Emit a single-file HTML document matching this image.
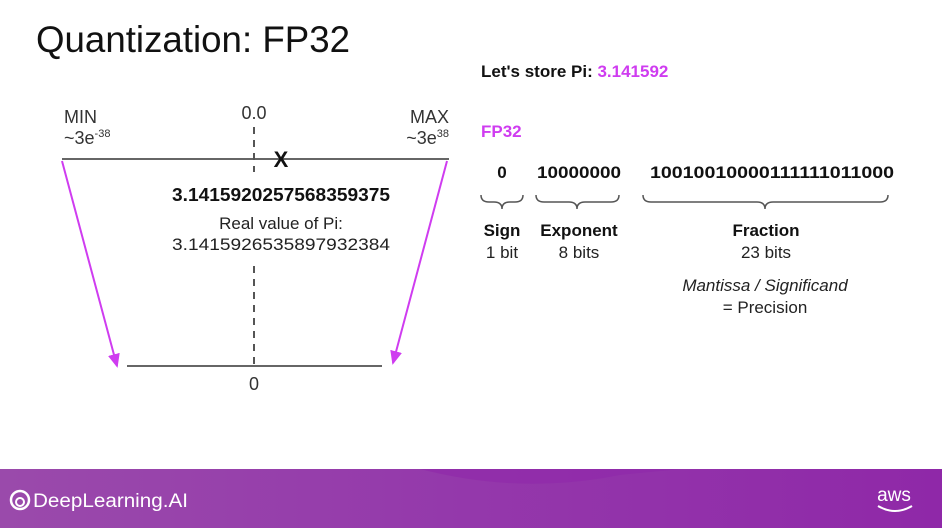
<!DOCTYPE html>
<html><head><meta charset="utf-8"><style>
html,body{margin:0;padding:0;background:#fff;width:942px;height:528px;overflow:hidden}
svg{display:block;font-family:"Liberation Sans",sans-serif}
</style></head><body>
<svg width="942" height="528" viewBox="0 0 942 528">
<defs>
<linearGradient id="fg" x1="0" x2="1" y1="0" y2="0"><stop offset="0" stop-color="#9a4aab"/><stop offset="0.5" stop-color="#9438ab"/><stop offset="1" stop-color="#8f28a8"/></linearGradient>
<marker id="ah" markerWidth="14" markerHeight="12" refX="12" refY="6" orient="auto" markerUnits="userSpaceOnUse"><path d="M0,0 L14,6 L0,12 z" fill="#cf3cf0"/></marker>
</defs>
<text x="36" y="52" font-size="37" fill="#111" textLength="314" lengthAdjust="spacingAndGlyphs">Quantization: FP32</text>

<g>
<line x1="62" y1="159" x2="449" y2="159" stroke="#666" stroke-width="2"/>
<line x1="254" y1="127" x2="254" y2="172" stroke="#555" stroke-width="2" stroke-dasharray="7,6"/>
<line x1="254" y1="266" x2="254" y2="366" stroke="#555" stroke-width="2" stroke-dasharray="7,6"/>
<line x1="127" y1="366" x2="382" y2="366" stroke="#666" stroke-width="2"/>
<line x1="62" y1="161" x2="117" y2="366" stroke="#cf3cf0" stroke-width="2" marker-end="url(#ah)"/>
<line x1="447" y1="161" x2="393" y2="363" stroke="#cf3cf0" stroke-width="2" marker-end="url(#ah)"/>
<text x="64" y="123" font-size="18" fill="#333">MIN</text>
<text x="64" y="144" font-size="18" fill="#333">~3e<tspan font-size="11" dy="-7">-38</tspan></text>
<text x="449" y="123" font-size="18" fill="#333" text-anchor="end">MAX</text>
<text x="449" y="144" font-size="18" fill="#333" text-anchor="end">~3e<tspan font-size="11" dy="-7">38</tspan></text>
<text x="254" y="119" font-size="18" fill="#333" text-anchor="middle">0.0</text>
<text x="281" y="167" font-size="22" font-weight="bold" fill="#111" text-anchor="middle">X</text>
<text x="281" y="201" font-size="18" font-weight="bold" fill="#111" text-anchor="middle" textLength="218" lengthAdjust="spacingAndGlyphs">3.1415920257568359375</text>
<text x="281" y="229" font-size="17" fill="#222" text-anchor="middle">Real value of Pi:</text>
<text x="281" y="250" font-size="17" fill="#222" text-anchor="middle" textLength="218" lengthAdjust="spacingAndGlyphs">3.1415926535897932384</text>
<text x="254" y="390" font-size="18" fill="#333" text-anchor="middle">0</text>
</g>

<g>
<text x="481" y="77" font-size="17" font-weight="bold" fill="#111">Let's store Pi: <tspan fill="#cf3cf0">3.141592</tspan></text>
<text x="481" y="137" font-size="17" font-weight="bold" fill="#cf3cf0">FP32</text>
<text x="502" y="178" font-size="17" font-weight="bold" fill="#111" text-anchor="middle">0</text>
<text x="579" y="178" font-size="17" font-weight="bold" fill="#111" text-anchor="middle" textLength="84" lengthAdjust="spacingAndGlyphs">10000000</text>
<text x="772" y="178" font-size="17" font-weight="bold" fill="#111" text-anchor="middle" textLength="244" lengthAdjust="spacingAndGlyphs">10010010000111111011000</text>
<g fill="none" stroke="#555" stroke-width="1.5">
<path d="M481,195 q0,7 8,7 h5 q8,0 8,7 q0,-7 8,-7 h5 q8,0 8,-7"/>
<path d="M536,195 q0,7 8,7 h25 q8,0 8,7 q0,-7 8,-7 h26 q8,0 8,-7"/>
<path d="M643,195 q0,7 8,7 h106 q8,0 8,7 q0,-7 8,-7 h107 q8,0 8,-7"/>
</g>
<text x="502" y="236" font-size="17" font-weight="bold" fill="#111" text-anchor="middle">Sign</text>
<text x="502" y="258" font-size="17" fill="#222" text-anchor="middle">1 bit</text>
<text x="579" y="236" font-size="17" font-weight="bold" fill="#111" text-anchor="middle">Exponent</text>
<text x="579" y="258" font-size="17" fill="#222" text-anchor="middle">8 bits</text>
<text x="766" y="236" font-size="17" font-weight="bold" fill="#111" text-anchor="middle">Fraction</text>
<text x="766" y="258" font-size="17" fill="#222" text-anchor="middle">23 bits</text>
<text x="765" y="291" font-size="17" font-style="italic" fill="#222" text-anchor="middle">Mantissa / Significand</text>
<text x="765" y="313" font-size="17" fill="#222" text-anchor="middle">= Precision</text>
</g>

<g>
<rect x="0" y="469" width="942" height="59" fill="url(#fg)"/>
<path d="M420,469 Q520,495 620,475 L680,469 z" fill="#9028aa" opacity="0.6"/>
<circle cx="20" cy="500" r="9" fill="none" stroke="#fff" stroke-width="2.5"/>
<circle cx="20" cy="502" r="4" fill="none" stroke="#fff" stroke-width="2"/>
<text x="33" y="507" font-size="19" fill="#fff" textLength="155" lengthAdjust="spacingAndGlyphs">DeepLearning.AI</text>
<text x="894" y="501" font-size="19" fill="#fff" text-anchor="middle">aws</text>
<path d="M878,506 Q895,516 912,506" fill="none" stroke="#fff" stroke-width="2"/>
</g>
</svg>
</body></html>
